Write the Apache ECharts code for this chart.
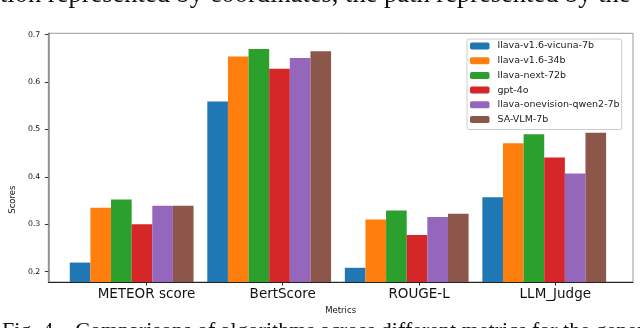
<!DOCTYPE html>
<html>
<head>
<meta charset="utf-8">
<script src="https://cdn.jsdelivr.net/npm/echarts@6/dist/echarts.min.js"></script>
<style>
  html, body { margin: 0; padding: 0; background: #fff; }
  #chart { width: 640px; height: 328px; }
</style>
</head>
<body>
<div id="chart"></div>
<script>
// 类别与各模型得分
var categories = ['METEOR score', 'BertScore', 'ROUGE-L', 'LLM_Judge'];
var models = ['llava-v1.6-vicuna-7b', 'llava-v1.6-34b', 'llava-next-72b', 'gpt-4o', 'llava-onevision-qwen2-7b', 'SA-VLM-7b'];
var vicuna7b = [0.219, 0.559, 0.208, 0.357];
var llava34b = [0.335, 0.654, 0.310, 0.471];
var next72b = [0.352, 0.670, 0.329, 0.490];
var gpt4o = [0.300, 0.628, 0.277, 0.441];
var onevision7b = [0.339, 0.651, 0.315, 0.407];
var saVlm7b = [0.339, 0.665, 0.322, 0.493];
var yTicks = [0.2, 0.3, 0.4, 0.5, 0.6, 0.7];

var colors = ['#1f77b4', '#ff7f0e', '#2ca02c', '#d62728', '#9467bd', '#8c564b'];
var seriesData = [vicuna7b, llava34b, next72b, gpt4o, onevision7b, saVlm7b];

var chart = echarts.init(document.getElementById('chart'));

// 刻度位置：每组第四根柱子的中心
var xTickPos = categories.map(function (c, i) { return i + 0.45 });

var option = {
  backgroundColor: '#fff',
  animation: false,
  color: colors,
  textStyle: { fontFamily: 'DejaVu Sans' },
  grid: [
    { left: 62.9, right: 27, top: 33.3, bottom: 46 },
    { left: 43, right: 7, top: 33.3, bottom: 46, show: true, borderColor: '#999', borderWidth: 1 }
  ],
  xAxis: [
    { type: 'category', gridIndex: 0, data: categories, show: false },
    {
      type: 'value', gridIndex: 1, min: -0.27, max: 4.02,
      axisLine: { show: true, onZero: false, lineStyle: { color: '#222', width: 1 } },
      splitLine: { show: false },
      axisTick: { show: true, customValues: xTickPos, length: 3.5, lineStyle: { color: '#222' } },
      axisLabel: {
        customValues: xTickPos, fontSize: 13.5, color: '#111', margin: 5,
        formatter: function (v) { return categories[Math.round(v - 0.45)] }
      },
      name: 'Metrics', nameLocation: 'middle', nameGap: 23,
      nameTextStyle: { fontSize: 8.5, color: '#111' }
    }
  ],
  yAxis: [
    { type: 'value', gridIndex: 0, min: 0.178, max: 0.703, show: false },
    {
      type: 'value', gridIndex: 1, min: 0.178, max: 0.703,
      axisLine: { show: true, onZero: false, lineStyle: { color: '#888', width: 1.5 } },
      splitLine: { show: false },
      axisTick: { show: true, customValues: yTicks, length: 3.5, lineStyle: { color: '#333' } },
      axisLabel: {
        customValues: yTicks, fontSize: 7.8, color: '#111', margin: 8,
        formatter: function (v) { return v.toFixed(1) }
      },
      name: 'Scores', nameLocation: 'middle', nameGap: 29,
      nameTextStyle: { fontSize: 8.5, color: '#111', padding: [0, 84, 0, 0] }
    }
  ],
  legend: {
    orient: 'vertical', left: 467, top: 39,
    data: models,
    itemWidth: 19.5, itemHeight: 7, itemGap: 4.7,
    padding: [2, 2, 5, 3],
    borderColor: '#ccc', borderWidth: 1, borderRadius: 2,
    backgroundColor: 'rgba(255,255,255,0.8)',
    textStyle: { fontSize: 9.5, color: '#222', lineHeight: 10, padding: [0, 0, 0, 3] }
  },
  series: models.map(function (m, k) {
    return {
      name: m, type: 'bar', xAxisIndex: 0, yAxisIndex: 0,
      barCategoryGap: '10%', barGap: '0%',
      data: seriesData[k]
    }
  }),
  graphic: [
    {
      type: 'text', left: 0, top: -18,
      style: { text: 'tion represented by coordinates, the path represented by the', font: '26.5px "Liberation Serif"', fill: '#111' }
    },
    {
      type: 'text', left: 2, top: 320,
      style: { text: 'Fig. 4.   Comparisons of algorithms across different metrics for the generated', font: '22px "Liberation Serif"', fill: '#111' }
    }
  ]
}
chart.setOption(option)
</script>
</body>
</html>
